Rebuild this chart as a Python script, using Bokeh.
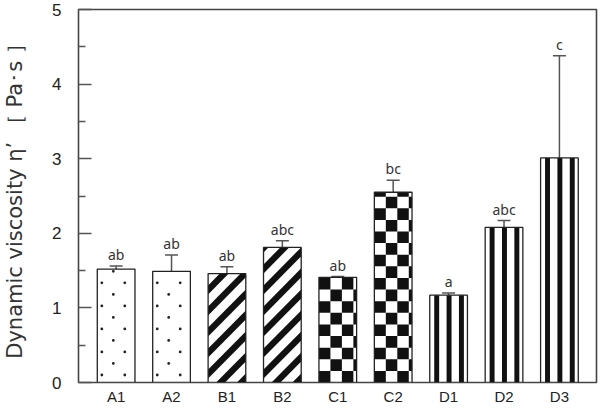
from bokeh.plotting import figure
from bokeh.models import FixedTicker, Range1d, Whisker, TeeHead, ColumnDataSource
from bokeh.core.properties import value
from bokeh.embed import file_html
from bokeh.resources import INLINE

categories = ["A1", "A2", "B1", "B2", "C1", "C2", "D1", "D2", "D3"]
means = [1.52, 1.49, 1.46, 1.81, 1.41, 2.55, 1.17, 2.08, 3.01]
err_top = [1.56, 1.71, 1.55, 1.90, 1.42, 2.71, 1.20, 2.17, 4.38]
letters = ["ab", "ab", "ab", "abc", "ab", "bc", "a", "abc", "c"]
patterns = ["dot", "dot", "diag", "diag", "check", "check", "vert", "vert", "vert"]
y_title = "Dynamic viscosity η’ ［ Pa･s ］"

xs = list(range(1, len(categories) + 1))
bw = 0.68
# pixel scale of the frame (used only to size fill patterns)
PX_X = 56.0   # px per x unit
PX_Y = 74.5   # px per y unit
X0, X1 = 0.321, 9.669

p = figure(width=601, height=408, output_backend="svg", toolbar_location=None,
           x_range=Range1d(X0, X1), y_range=Range1d(0, 5))
p.min_border_left = 73
p.min_border_right = 5
p.min_border_top = 9
p.min_border_bottom = 26
p.background_fill_color = "white"
p.border_fill_color = "white"
p.outline_line_color = "#444444"
p.outline_line_width = 1.6
p.grid.visible = False

# white bar bodies
p.vbar(x=xs, top=means, width=bw, bottom=0, fill_color="white", line_color=None)

# ---- dots (staggered) for A bars
dx, dy = [], []
for i, k in enumerate(patterns):
    if k != "dot":
        continue
    x0 = xs[i] - bw / 2
    for c in range(3):
        xc = x0 + (4.6 + 11.6 * c) / PX_X
        start = 7.5 if c % 2 == 0 else 19.0
        yy = start
        while yy / PX_Y < means[i] - 1.0 / PX_Y:
            dx.append(xc); dy.append(yy / PX_Y)
            yy += 23.0
p.scatter(x=dx, y=dy, size=2.8, marker="circle", fill_color="#222222", line_color=None)

# ---- diagonal stripes for B bars
def clip_poly(poly, xmin, xmax, ymin, ymax):
    def clip(pts, inside, inter):
        out = []
        n = len(pts)
        for j in range(n):
            cur, prev = pts[j], pts[j - 1]
            if inside(cur):
                if not inside(prev):
                    out.append(inter(prev, cur))
                out.append(cur)
            elif inside(prev):
                out.append(inter(prev, cur))
        return out
    def ix(a, b, xv):
        t = (xv - a[0]) / (b[0] - a[0]); return (xv, a[1] + t * (b[1] - a[1]))
    def iy(a, b, yv):
        t = (yv - a[1]) / (b[1] - a[1]); return (a[0] + t * (b[0] - a[0]), yv)
    pts = poly
    pts = clip(pts, lambda q: q[0] >= xmin, lambda a, b: ix(a, b, xmin))
    if pts: pts = clip(pts, lambda q: q[0] <= xmax, lambda a, b: ix(a, b, xmax))
    if pts: pts = clip(pts, lambda q: q[1] >= ymin, lambda a, b: iy(a, b, ymin))
    if pts: pts = clip(pts, lambda q: q[1] <= ymax, lambda a, b: iy(a, b, ymax))
    return pts

sx, sy = [], []
period = 21.0   # vertical period in px
band = 9.0      # vertical thickness of black band in px
for i, k in enumerate(patterns):
    if k != "diag":
        continue
    W = bw * PX_X
    H = means[i] * PX_Y
    x0 = xs[i] - bw / 2
    c = -W - period
    while c < H + period:
        poly = [(-10, -10 + c), (W + 10, W + 10 + c), (W + 10, W + 10 + c + band), (-10, -10 + c + band)]
        pts = clip_poly(poly, 0, W, 0, H)
        if len(pts) >= 3:
            sx.append([x0 + q[0] / PX_X for q in pts])
            sy.append([q[1] / PX_Y for q in pts])
        c += period
p.patches(xs=sx, ys=sy, fill_color="#111111", line_color=None)

# ---- vertical stripes for D bars
vl, vr, vt = [], [], []
for i, k in enumerate(patterns):
    if k != "vert":
        continue
    x0 = xs[i] - bw / 2
    for off in (1.5, 14.0, 26.5):
        vl.append(x0 + (off + 3.0) / PX_X)
        vr.append(x0 + (off + 8.0) / PX_X)
        vt.append(means[i])
p.quad(left=vl, right=vr, bottom=0, top=vt, fill_color="#111111", line_color=None)

# ---- checkerboard for C bars
cw = 11.6 / PX_X
ch = 11.6 / PX_Y
L, R, B, T = [], [], [], []
for i, k in enumerate(patterns):
    if k != "check":
        continue
    x0 = xs[i] - bw / 2
    x1 = xs[i] + bw / 2
    ncol = int((x1 - x0) / cw) + 1
    nrow = int(means[i] / ch) + 1
    for r in range(nrow):
        for c in range(ncol):
            if (r + c) % 2 == 0:
                l = x0 + c * cw
                rr = min(l + cw, x1)
                b = r * ch
                t = min(b + ch, means[i])
                if rr > l and t > b:
                    L.append(l); R.append(rr); B.append(b); T.append(t)
p.quad(left=L, right=R, bottom=B, top=T, fill_color="#111111", line_color=None)

# bar outlines
p.vbar(x=xs, top=means, width=bw, bottom=0, fill_color=None,
       line_color="#222222", line_width=1.3)

# error bars
esrc = ColumnDataSource(dict(x=xs, lower=means, upper=err_top))
w = Whisker(base="x", lower="lower", upper="upper", source=esrc,
            line_color="#555555", line_width=1.5,
            upper_head=TeeHead(size=13, line_color="#555555", line_width=1.5),
            lower_head=None)
p.add_layout(w)

# letters
p.text(x=xs, y=err_top, text=letters, y_offset=-2, text_align="center",
       text_baseline="bottom", text_font=value("Noto Sans"),
       text_font_size="14px", text_color="#333333")

# axes
p.xaxis.ticker = FixedTicker(ticks=xs)
p.xaxis.major_label_overrides = {x: c for x, c in zip(xs, categories)}
p.xaxis.major_tick_line_color = None
p.xaxis.major_tick_out = 0
p.xaxis.major_tick_in = 0
p.xaxis.minor_tick_line_color = None
p.xaxis.axis_line_color = None
p.xaxis.major_label_standoff = 5
p.xaxis.major_label_text_font = "Liberation Sans"
p.xaxis.major_label_text_font_size = "15px"
p.xaxis.major_label_text_color = "#222222"

p.yaxis.ticker = FixedTicker(ticks=[0, 1, 2, 3, 4, 5],
                             minor_ticks=[0.5, 1.5, 2.5, 3.5, 4.5])
p.yaxis.axis_line_color = None
p.yaxis.major_tick_in = 13
p.yaxis.major_tick_out = 0
p.yaxis.minor_tick_in = 7
p.yaxis.minor_tick_out = 0
p.yaxis.major_tick_line_color = "#555555"
p.yaxis.minor_tick_line_color = "#555555"
p.yaxis.major_tick_line_width = 1.3
p.yaxis.minor_tick_line_width = 1.3
p.yaxis.major_label_standoff = 17
p.yaxis.major_label_text_font = "Liberation Sans"
p.yaxis.major_label_text_font_size = "17px"
p.yaxis.major_label_text_color = "#222222"
p.yaxis.axis_label = y_title
p.yaxis.axis_label_text_font = "DejaVu Sans"
p.yaxis.axis_label_text_font_style = "normal"
p.yaxis.axis_label_text_font_size = "21px"
p.yaxis.axis_label_text_color = "#333333"
p.yaxis.axis_label_standoff = 22

open("out.html", "w").write(file_html(p, INLINE))
